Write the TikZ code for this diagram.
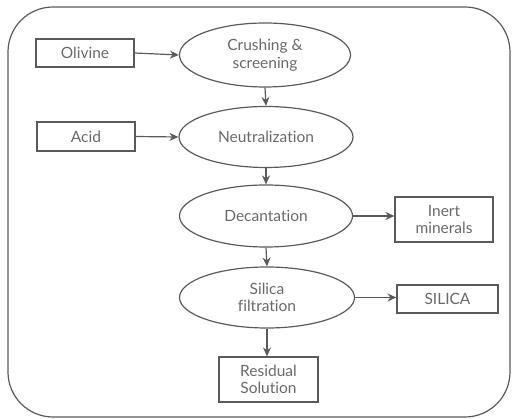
\documentclass[tikz,border=0pt]{standalone}
\usepackage{fontspec}
\setmainfont{Lato}[RawFeature={-liga,-dlig,-clig}]
\usetikzlibrary{shapes.geometric,arrows.meta}
\definecolor{ink}{RGB}{90,90,90}
\definecolor{txt}{RGB}{105,105,105}
\tikzset{
  every node/.style={font=\fontsize{15.5}{17.5}\selectfont, text=txt},
  boxnode/.style={draw=ink, line width=1.2pt, rectangle, inner sep=0pt, align=center},
  ellnode/.style={draw=ink, line width=1.2pt, ellipse, inner sep=0pt, align=center},
  conn/.style={draw=ink, line width=1.2pt, -{Stealth[length=9pt,width=8pt,inset=3pt]}},
}
\begin{document}
\begin{tikzpicture}[x=1pt,y=-1pt]
\useasboundingbox (0,0) rectangle (512,419);
\draw[ink, line width=1.2pt, rounded corners=45pt] (8,7) rectangle (510,417);
\node[boxnode, minimum width=98pt, minimum height=28pt] (olivine) at (85,53) {Olivine};
\node[ellnode, minimum width=171pt, minimum height=64pt] (crush) at (265,55) {Crushing \&\\screening};
\node[boxnode, minimum width=98pt, minimum height=29pt] (acid) at (86,136.5) {Acid};
\node[ellnode, minimum width=174pt, minimum height=61pt] (neut) at (266,137) {Neutralization};
\node[ellnode, minimum width=173pt, minimum height=62pt] (dec) at (266,216) {Decantation};
\node[boxnode, minimum width=98pt, minimum height=45pt] (inert) at (444,219.5) {Inert\\minerals};
\node[ellnode, minimum width=175pt, minimum height=61pt] (sil) at (267,297.5) {Silica\\filtration};
\node[boxnode, minimum width=101pt, minimum height=28pt] (silica) at (447.5,299) {SILICA};
\node[boxnode, minimum width=99pt, minimum height=45pt] (res) at (268.5,379.5) {Residual\\Solution};
\draw[conn] (olivine.east) -- (crush.west);
\draw[conn] (acid.east) -- (neut.west);
\draw[conn] (crush.south) -- (neut.north);
\draw[conn] (neut.south) -- (dec.north);
\draw[conn] (dec.east) -- (dec.east -| inert.west);
\draw[conn] (dec.south) -- (sil.north);
\draw[conn] (sil.east) -- (sil.east -| silica.west);
\draw[conn] (sil.south) -- (sil.south |- res.north);
\end{tikzpicture}
\end{document}
